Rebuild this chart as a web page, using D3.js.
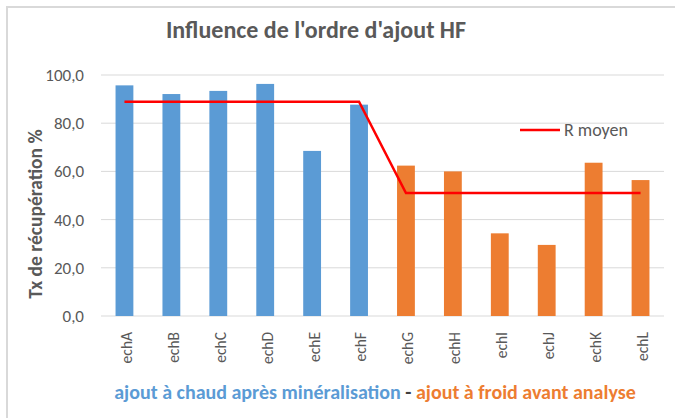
<!DOCTYPE html>
<html><head><meta charset="utf-8">
<script src="https://cdn.jsdelivr.net/npm/d3@7"></script>
<style>body{margin:0;background:#fff}svg{display:block}</style>
</head><body>
<svg id="c" width="675" height="418"></svg>
<script>
const categories = ["echA","echB","echC","echD","echE","echF","echG","echH","echI","echJ","echK","echL"];
const recovery = [95.7,92.1,93.4,96.3,68.5,87.7,62.4,60.0,34.3,29.5,63.6,56.4];
const groups = ["chaud","chaud","chaud","chaud","chaud","chaud","froid","froid","froid","froid","froid","froid"];
const meanR = [88.9,88.9,88.9,88.9,88.9,88.9,51.0,51.0,51.0,51.0,51.0,51.0];
const yTicks = [0,20,40,60,80,100];
const colors = {chaud:"#5b9bd5", froid:"#ed7d31"};
const gray = "#595959";
const font = "Carlito, Calibri, 'Open Sans', sans-serif";

const svg = d3.select("#c");
// frame (top and left edges)
svg.append("line").attr("x1",6).attr("x2",675).attr("y1",7).attr("y2",7).attr("stroke","#d9d9d9").attr("stroke-width",2);
svg.append("line").attr("x1",7).attr("x2",7).attr("y1",6).attr("y2",418).attr("stroke","#d9d9d9").attr("stroke-width",2);

const x = d3.scaleBand().domain(categories).range([101,664]).paddingInner(0.62).paddingOuter(0.31);
const y = d3.scaleLinear().domain([0,100]).range([316,75]);

// gridlines
svg.append("g").selectAll("line").data(yTicks).join("line")
  .attr("x1",101).attr("x2",664).attr("y1",d=>y(d)).attr("y2",d=>y(d))
  .attr("stroke","#d9d9d9").attr("stroke-width",1);

// y axis
const yAxis = d3.axisLeft(y).tickValues(yTicks).tickSize(0).tickPadding(0)
  .tickFormat(d=>d3.format(".1f")(d).replace(".",","));
const gy = svg.append("g").attr("transform","translate(84,0)").call(yAxis);
gy.select(".domain").remove();
gy.selectAll("text").attr("fill",gray).style("font-family",font).style("font-size","17px");

// bars
svg.append("g").selectAll("rect").data(categories).join("rect")
  .attr("x",d=>x(d)).attr("width",x.bandwidth())
  .attr("y",(d,i)=>y(recovery[i])).attr("height",(d,i)=>y(0)-y(recovery[i]))
  .attr("fill",(d,i)=>colors[groups[i]]);

// x axis
const xAxis = d3.axisBottom(x).tickSize(0).tickPadding(0);
const gx = svg.append("g").attr("transform","translate(2,316)").call(xAxis);
gx.select(".domain").remove();
gx.selectAll("text").attr("fill",gray).style("font-family",font).style("font-size","15.5px")
  .attr("text-anchor","end").attr("dy","0.35em").attr("transform","translate(0,16) rotate(-90)").attr("x",0).attr("y",0);

// mean line
const line = d3.line().x((d,i)=>x(categories[i])+x.bandwidth()/2).y(d=>y(d));
svg.append("path").datum(meanR).attr("d",line).attr("fill","none").attr("stroke","#ff0000").attr("stroke-width",2.5);

// legend
svg.append("line").attr("x1",520).attr("x2",560).attr("y1",130).attr("y2",130).attr("stroke","#ff0000").attr("stroke-width",2.5);
svg.append("text").attr("x",564).attr("y",130).attr("dy","0.35em").attr("fill",gray)
  .style("font-family",font).style("font-size","18px").text("R moyen");

// title
svg.append("text").attr("x",316).attr("y",38).attr("text-anchor","middle").attr("fill",gray)
  .style("font-family",font).style("font-size","24px").style("font-weight","bold")
  .text("Influence de l'ordre d'ajout HF");

// y label
svg.append("text").attr("transform","translate(42,214) rotate(-90)").attr("text-anchor","middle").attr("fill",gray)
  .style("font-family",font).style("font-size","19.5px").style("font-weight","bold")
  .text("Tx de récupération %");

// bottom caption
const cap = svg.append("text").attr("x",375).attr("y",399).attr("text-anchor","middle")
  .style("font-family",font).style("font-size","20px").style("font-weight","bold");
cap.append("tspan").attr("fill",colors.chaud).text("ajout à chaud après minéralisation");
cap.append("tspan").attr("fill","#404040").text(" - ");
cap.append("tspan").attr("fill",colors.froid).text("ajout à froid avant analyse");
</script>
</body></html>
